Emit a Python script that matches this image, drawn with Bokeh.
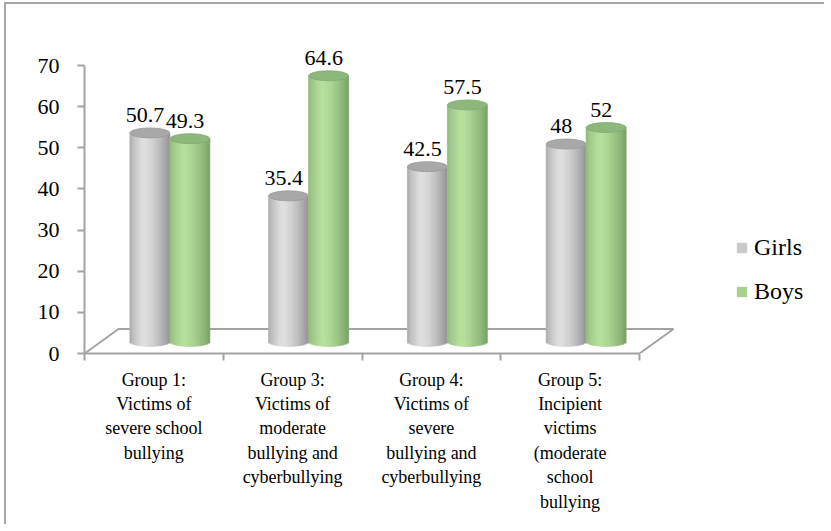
from bokeh.plotting import figure
from bokeh.models import Range1d, FixedTicker, Legend, LegendItem, InlineStyleSheet
from bokeh.embed import file_html
from bokeh.resources import INLINE
from bokeh.core.properties import value

# ---- data ----
groups = [
    "Group 1:\nVictims of\nsevere school\nbullying",
    "Group 3:\nVictims of\nmoderate\nbullying and\ncyberbullying",
    "Group 4:\nVictims of\nsevere\nbullying and\ncyberbullying",
    "Group 5:\nIncipient\nvictims\n(moderate\nschool\nbullying",
]
girls = [50.7, 35.4, 42.5, 48]
boys = [49.3, 64.6, 57.5, 52]
series_names = ["Girls", "Boys"]
y_ticks = [0, 10, 20, 30, 40, 50, 60, 70]

# ---- styles ----
FONT = "Liberation Serif"
GIRLS_COLOR = "#C9C9C9"
BOYS_COLOR = "#A9D18E"
AXIS_GRAY = "#a3a3a3"

PX_X = 138.75   # px per category
PX_Y = 4.114    # px per unit
FRAME_W = 736
FRAME_H = 333

n = len(groups)
depth_dx = 34 / PX_X
depth_dy = 24.5 / PX_Y
mid_dx = 16 / PX_X
mid_dy = 12 / PX_Y
bar_w = 40 / PX_X
ell_h = 10  # screen px
half_e = (ell_h / 2) / PX_Y

p = figure(
    frame_width=FRAME_W, frame_height=FRAME_H,
    x_range=Range1d(0, FRAME_W / PX_X), y_range=Range1d(0, FRAME_H / PX_Y),
    output_backend="svg", toolbar_location=None,
    min_border_left=84, min_border_top=20, min_border_right=0, min_border_bottom=170,
)
# chart-area border (left and top edges, as in the original)
p.stylesheets = [InlineStyleSheet(css=(
    ":host::after { content: ''; position: absolute; left: 4px; top: 2px; "
    "width: 820px; height: 522px; border-left: 2px solid #a6a6a6; "
    "border-top: 2px solid #a6a6a6; pointer-events: none; box-sizing: border-box; }"
))]
p.outline_line_color = None
p.xgrid.visible = False
p.ygrid.visible = False
p.background_fill_color = "white"
p.border_fill_color = "white"

# floor (back edge and side edges)
p.multi_line(
    xs=[[0, depth_dx, n + depth_dx, n]],
    ys=[[0, depth_dy, depth_dy, 0]],
    line_color=AXIS_GRAY, line_width=2,
)

def lerp(c1, c2, t):
    a = [int(c1[i:i + 2], 16) for i in (1, 3, 5)]
    b = [int(c2[i:i + 2], 16) for i in (1, 3, 5)]
    return "#%02x%02x%02x" % tuple(round(a[k] + (b[k] - a[k]) * t) for k in range(3))

def shade(u, left, peak, right):
    pk = 0.33
    if u < pk:
        t = u / pk
        return lerp(left, peak, t ** 0.6)
    t = (u - pk) / (1 - pk)
    return lerp(peak, right, t ** 1.6)

palettes = {
    "Girls": ("#a2a2a2", "#e0e0e0", "#939393", "#a8a8a8"),
    "Boys": ("#8bb377", "#b6e09e", "#79a165", "#8db87b"),
}

NS = 18
legend_items = []
for s, vals in enumerate([girls, boys]):
    name = series_names[s]
    left_c, peak_c, right_c, top_c = palettes[name]
    lefts, rights, bottoms, tops, colors = [], [], [], [], []
    cx_list, cy_list = [], []
    for i, v in enumerate(vals):
        cx = i + 0.5 + mid_dx + (s - 0.5) * bar_w
        x0 = cx - bar_w / 2
        for j in range(NS):
            u0 = j / NS
            u1 = (j + 1) / NS
            um = (j + 0.5) / NS
            lefts.append(x0 + u0 * bar_w)
            rights.append(x0 + u1 * bar_w)
            e = half_e * max(0.0, 1 - (2 * um - 1) ** 2) ** 0.5
            bottoms.append(mid_dy - e)
            tops.append(mid_dy + v)
            colors.append(shade(um, left_c, peak_c, right_c))
        cx_list.append(cx)
        cy_list.append(mid_dy + v)
    # base bar (series colour, used for the legend; covered by the shaded strips)
    r = p.vbar(x=cx_list, bottom=mid_dy, top=cy_list, width=bar_w,
               fill_color=[GIRLS_COLOR, BOYS_COLOR][s], line_color=None)
    legend_items.append(LegendItem(label=name, renderers=[r]))
    p.quad(left=lefts, right=rights, bottom=bottoms, top=tops,
           fill_color=colors, line_color=colors, line_width=0.6)
    p.ellipse(x=cx_list, y=cy_list, width=bar_w, height=ell_h, height_units="screen",
              fill_color=top_c, line_color=lerp(top_c, "#000000", 0.08), line_width=0.8)
    p.text(x=cx_list, y=cy_list, text=[f"{v:g}" for v in vals],
           text_font=value(FONT), text_font_size="22px", text_color="black",
           text_align="center", text_baseline="middle", x_offset=-5, y_offset=-18)

# axes
p.yaxis.ticker = FixedTicker(ticks=y_ticks)
p.yaxis.bounds = (0, 70)
p.yaxis.axis_line_color = AXIS_GRAY
p.yaxis.axis_line_width = 2
p.yaxis.major_tick_line_color = AXIS_GRAY
p.yaxis.major_tick_line_width = 2
p.yaxis.major_tick_out = 7
p.yaxis.major_tick_in = 0
p.yaxis.minor_tick_line_color = None
p.yaxis.major_label_standoff = 18
p.yaxis.major_label_text_font = FONT
p.yaxis.major_label_text_font_size = "22px"
p.yaxis.major_label_text_color = "black"

centers = [i + 0.5 for i in range(n)]
p.xaxis.ticker = FixedTicker(ticks=centers, minor_ticks=list(range(n + 1)))
p.xaxis.bounds = (0, n)
p.xaxis.axis_line_color = AXIS_GRAY
p.xaxis.axis_line_width = 2
p.xaxis.major_tick_line_color = None
p.xaxis.major_tick_out = 0
p.xaxis.major_tick_in = 0
p.xaxis.minor_tick_line_color = AXIS_GRAY
p.xaxis.minor_tick_line_width = 2
p.xaxis.minor_tick_out = 7
p.xaxis.minor_tick_in = 0
p.xaxis.major_label_overrides = {c: g for c, g in zip(centers, groups)}
p.xaxis.major_label_standoff = 9
p.xaxis.major_label_text_font = FONT
p.xaxis.major_label_text_font_size = "18px"
p.xaxis.major_label_text_line_height = 1.22
p.xaxis.major_label_text_color = "black"
p.xaxis.major_label_orientation = "horizontal"

legend = Legend(items=legend_items, location=(651, 47), orientation="vertical",
                label_text_font=FONT, label_text_font_size="24px", label_text_color="black",
                glyph_width=13, glyph_height=13, label_standoff=6, padding=0, margin=0,
                spacing=14, label_height=30,
                border_line_color=None, background_fill_alpha=0)
p.add_layout(legend)

open("out.html", "w").write(file_html(p, INLINE))
